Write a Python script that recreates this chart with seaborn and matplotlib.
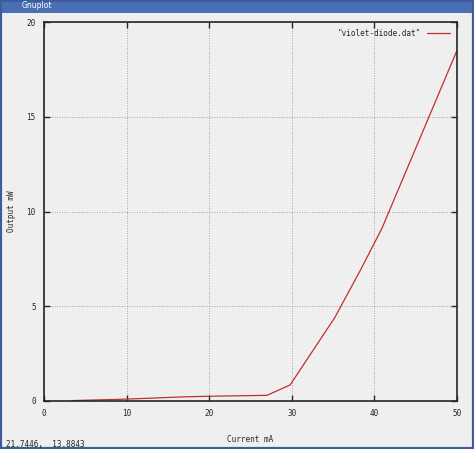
import matplotlib
matplotlib.use("Agg")
import matplotlib.pyplot as plt
import seaborn as sns
import pandas as pd
from matplotlib.patches import Rectangle

current = [3.3, 10, 17, 20, 27, 29.8, 35.2, 38.3, 40.9, 50]
output = [0.02, 0.1, 0.22, 0.25, 0.3, 0.85, 4.4, 6.9, 9.1, 18.5]
df = pd.DataFrame({"Current mA": current, "Output mW": output})

sns.set_style("ticks")
plt.rcParams["font.family"] = ["DejaVu Sans Mono"]
plt.rcParams["font.size"] = 5.5

fig = plt.figure(figsize=(4.74, 4.49), dpi=100, facecolor="#efefef")
ax = fig.add_axes([44 / 474, 1 - 401 / 449, 413 / 474, 379 / 449])
ax.set_facecolor("#efefef")

sns.lineplot(data=df, x="Current mA", y="Output mW", ax=ax, color="#c03030",
             linewidth=0.9, label='"violet-diode.dat"')

ax.set_xlim(0, 50)
ax.set_ylim(0, 20)
ax.set_xticks(range(0, 51, 10))
ax.set_yticks(range(0, 21, 5))
ax.grid(True, linestyle=(0, (1, 2)), color="#888888", linewidth=0.6)
ax.tick_params(direction="in", top=True, right=True, length=4, width=1, pad=6)
for s in ax.spines.values():
    s.set_linewidth(1.2)
ax.set_xlabel("Current mA", labelpad=12)
ax.set_ylabel("Output mW")
ax.yaxis.set_label_coords(-28 / 413, 0.5)
leg = ax.legend(loc="upper right", frameon=False, markerfirst=False,
                handlelength=3, fontsize=5.5)

# window frame
fig.patches.append(Rectangle((0, 1 - 13 / 449), 1, 13 / 449, transform=fig.transFigure,
                             facecolor="#4a6fb5", edgecolor="none", zorder=0))
fig.text(22 / 474, 1 - 6 / 449, "Gnuplot", color="white", fontsize=5.5,
         va="center", family=["DejaVu Sans"])
fig.patches.append(Rectangle((0, 0), 1, 1, transform=fig.transFigure, fill=False,
                             edgecolor="#3c5c9c", linewidth=3, zorder=0))
fig.text(6 / 474, 5 / 449, "21.7446,  13.8843", fontsize=5.5, va="center")

fig.savefig("out.png", dpi=100, facecolor=fig.get_facecolor())
